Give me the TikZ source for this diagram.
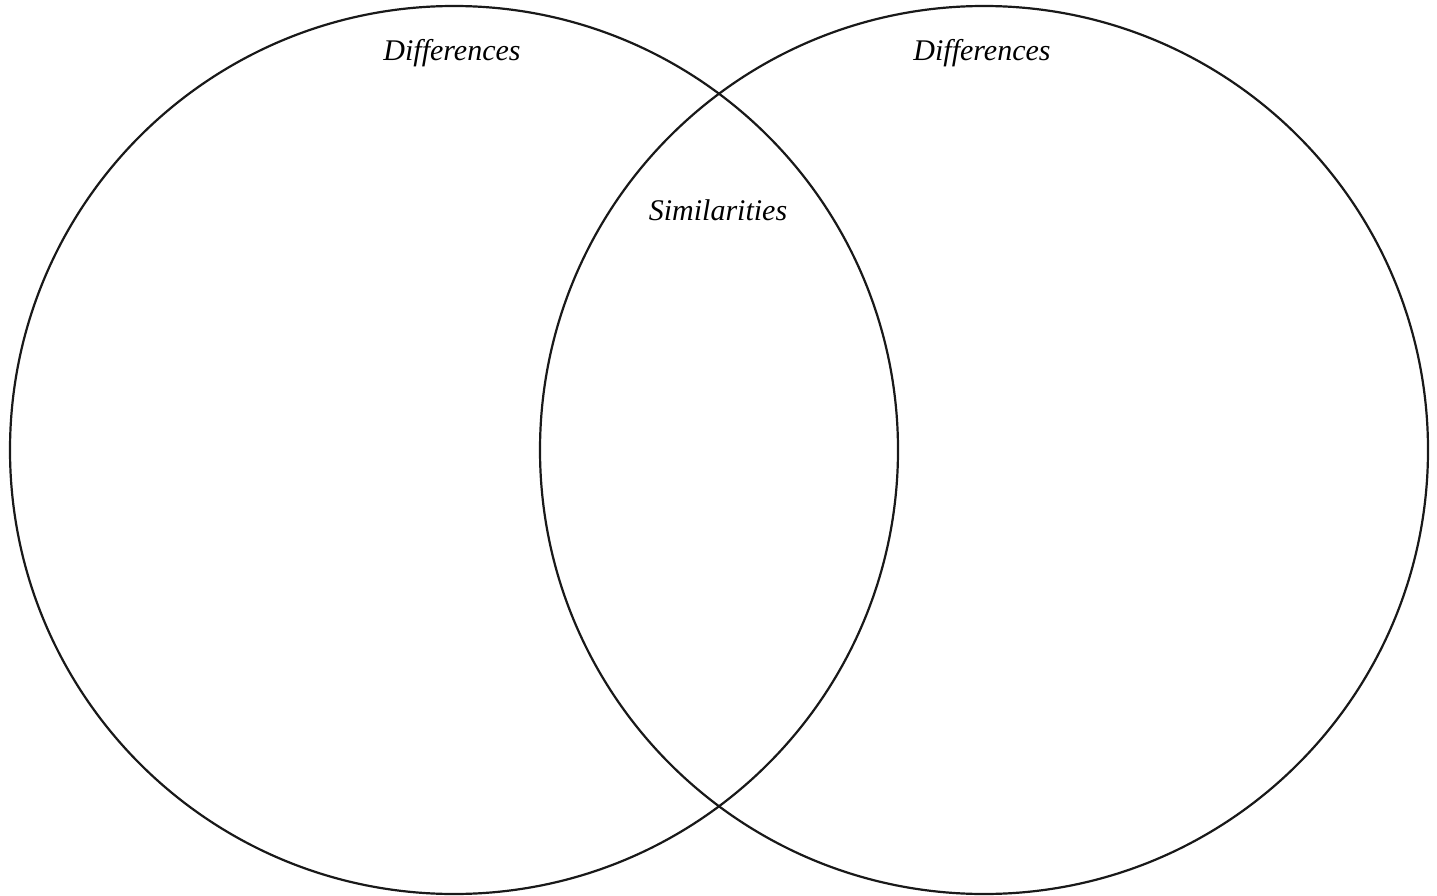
\documentclass[tikz,border=0pt]{standalone}
\usepackage{fontspec}
\setmainfont{Liberation Serif}
\begin{document}
\begin{tikzpicture}[x=1pt,y=-1pt,
  ring/.style={draw=black!90,line width=2.2pt,circle,minimum size=888pt,inner sep=0pt},
  lbl/.style={font=\itshape\fontsize{30}{33}\selectfont,inner sep=0pt}]
\useasboundingbox[fill=white] (0,0) rectangle (1437,896);
\node[ring] (L) at (454,450) {};
\node[ring] (R) at (984,450) {};
\node[lbl] (dl) at (452,53) {Differences};
\node[lbl] (dr) at (982,53) {Differences};
\node[lbl] (sm) at (718,210) {Similarities};
\end{tikzpicture}
\end{document}
